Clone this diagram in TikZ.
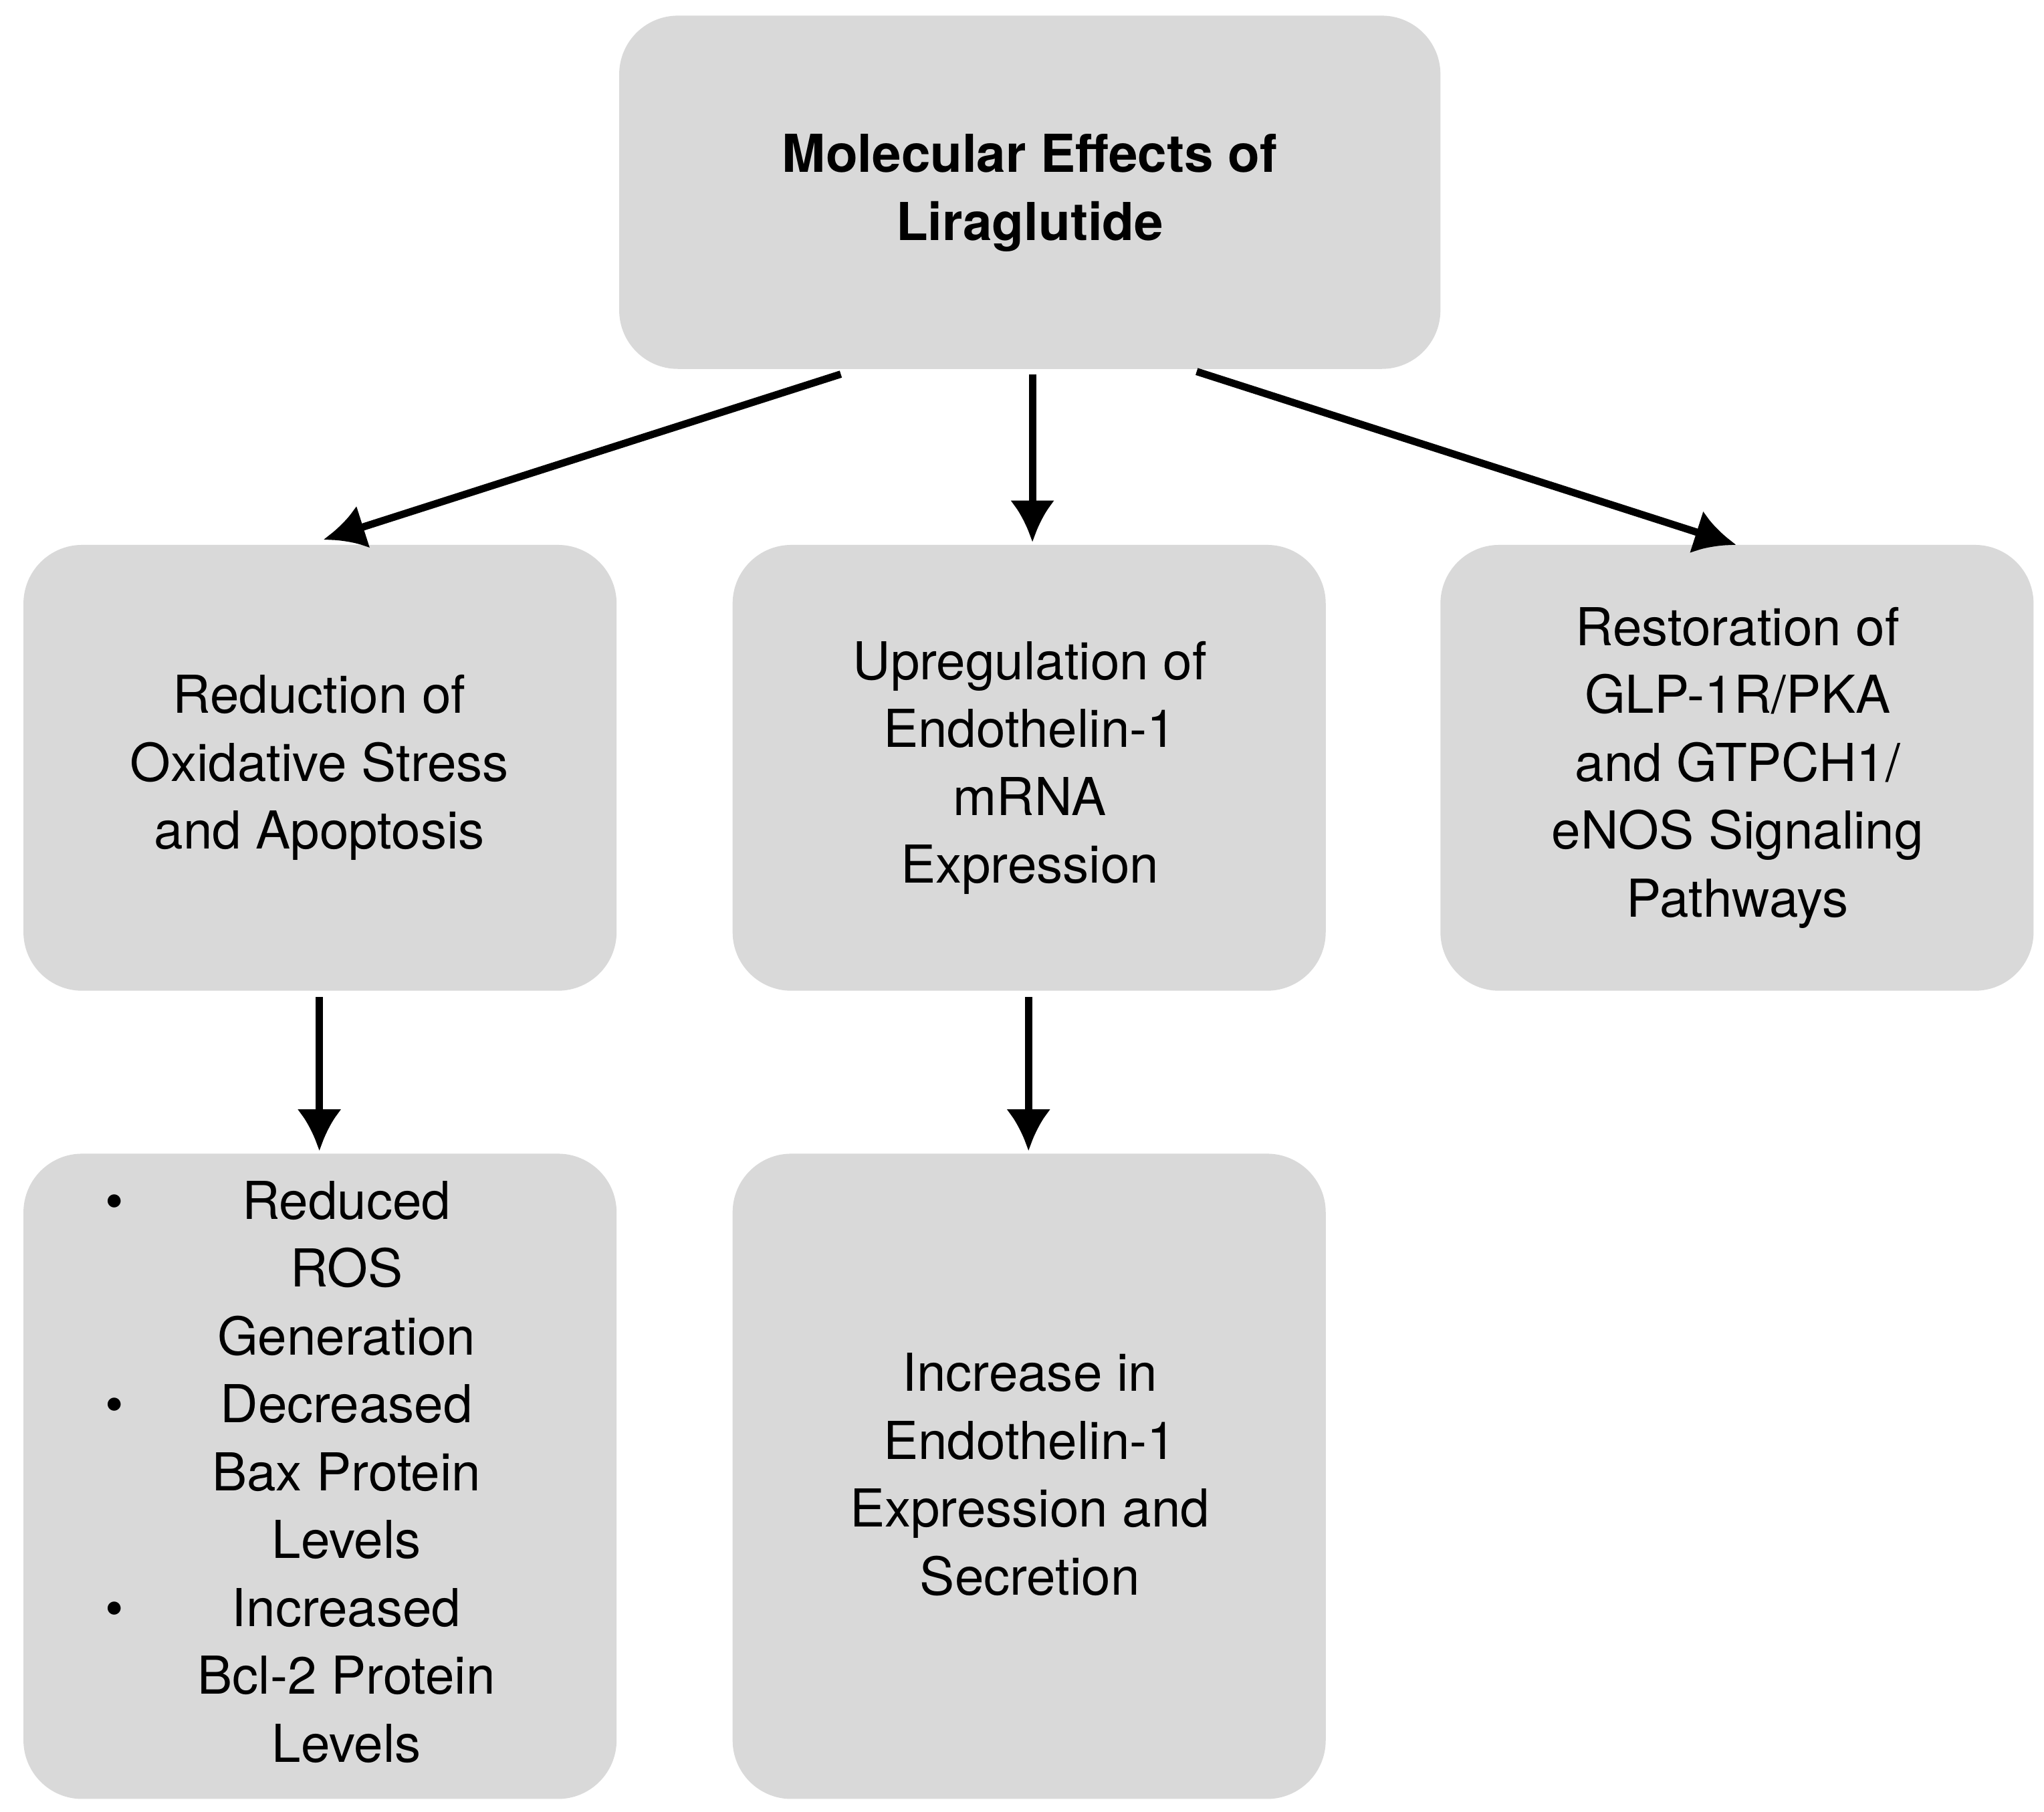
\documentclass[tikz,border=0pt]{standalone}
\usepackage{fontspec}
\setmainfont{TeX Gyre Heros}
\usepackage{array}
\begin{document}
\begin{tikzpicture}[x=0.01cm,y=-0.01cm,
 box/.style={fill=black!15,draw=none,rounded corners=0.45cm,inner sep=0pt},
 txt/.style={align=center,font=\fontsize{11.4}{14.8}\selectfont},
 arr/.style={line width=1.6pt,-{Latex[length=0.32cm,width=0.34cm]}}]
\useasboundingbox (0,0) rectangle (1568,1390);
\usetikzlibrary{arrows.meta}
\fill[box] (475,12) rectangle (1105,283);
\fill[box] (18,418) rectangle (473,760);
\fill[box] (562,418) rectangle (1017,760);
\fill[box] (1105,418) rectangle (1560,760);
\fill[box] (18,885) rectangle (473,1380);
\fill[box] (562,885) rectangle (1017,1380);
\node[txt,font=\fontsize{11.4}{14.8}\selectfont\bfseries] (top) at (790,148) {Molecular Effects of\\Liraglutide};
\node[txt] (a) at (245,589) {Reduction of\\Oxidative Stress\\and Apoptosis};
\node[txt] (b) at (790,589) {Upregulation of\\Endothelin-1\\mRNA\\Expression};
\node[txt] (c) at (1333,589) {Restoration of\\GLP-1R/PKA\\and GTPCH1/\\eNOS Signaling\\Pathways};
\node[txt,anchor=west,inner sep=0pt] (d) at (80,1133) {\begin{tabular}{@{}p{0.6cm}@{}>{\centering\arraybackslash}p{2.5cm}@{}}
\textbullet & Reduced ROS\\ & Generation\\ \textbullet & Decreased\\ & Bax Protein\\ & Levels\\ \textbullet & Increased\\ & Bcl-2 Protein\\ & Levels\end{tabular}};
\node[txt] (e) at (790,1131) {Increase in\\Endothelin-1\\Expression and\\Secretion};
\coordinate (t1) at (645,287); \coordinate (t2) at (792,287); \coordinate (t3) at (918,285);
\coordinate (a1) at (248,414); \coordinate (b1) at (792,416); \coordinate (c1) at (1332,418);
\coordinate (a2) at (245,765); \coordinate (d1) at (245,883);
\coordinate (b2) at (789,765); \coordinate (e1) at (789,883);
\draw[arr] (t1) -- (a1);
\draw[arr] (t2) -- (b1);
\draw[arr] (t3) -- (c1);
\draw[arr] (a2) -- (d1);
\draw[arr] (b2) -- (e1);
\end{tikzpicture}
\end{document}
